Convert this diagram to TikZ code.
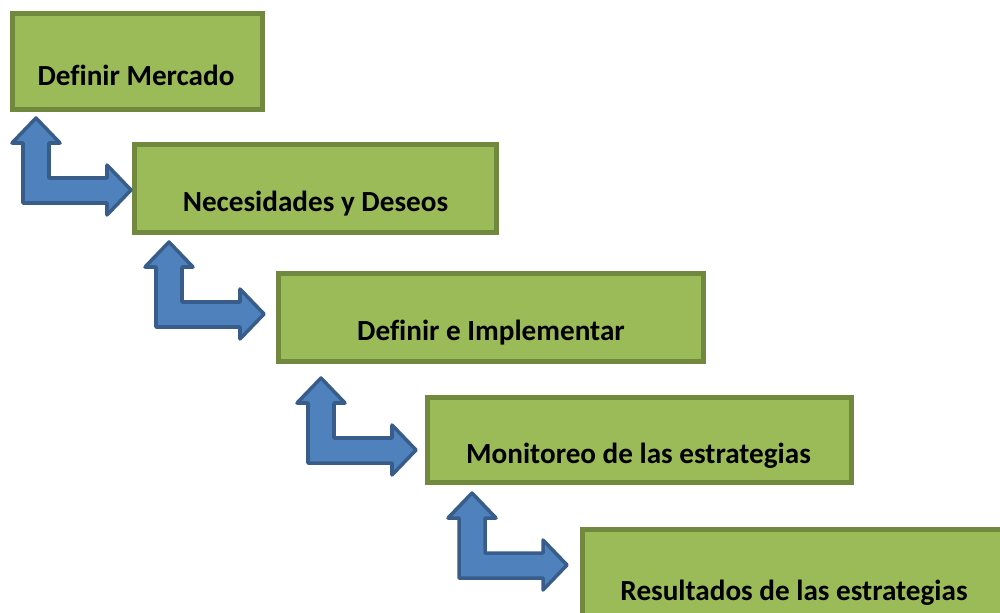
\documentclass[tikz,border=0pt]{standalone}
\usepackage{fontspec}
\setmainfont{Carlito}[Ligatures=NoCommon]
\definecolor{boxfill}{HTML}{9BBB59}
\definecolor{boxline}{HTML}{71893F}
\definecolor{arrowfill}{HTML}{4F81BD}
\definecolor{arrowline}{HTML}{385D8A}
\tikzset{
    box/.style = {draw=boxline, fill=boxfill, line width=3pt, anchor=north west, inner sep=0pt, outer sep=0pt},
    label/.style = {font = {\bfseries\fontsize{16.6}{20}\selectfont}, black, anchor=base, inner sep=0pt},
    bent/.pic = {
        \draw[arrowline, fill=arrowfill, line width=2pt, line join=round]
            (0,0) -- (24,25) -- (13,25) -- (13,60) -- (71,60) -- (71,47) -- (95,72)
            -- (71,97) -- (71,85) -- (-13,85) -- (-13,25) -- (-24,25) -- cycle;
    }
}

\begin{document}
\begin{tikzpicture}[x=0.02cm, y=-0.02cm]
        \clip (0,0) rectangle (1000,612);
        \node[box, minimum width=5cm, minimum height=1.92cm] (mercado) at (12.5,13.5) {};
        \node[box, minimum width=7.24cm, minimum height=1.76cm] (necesidades) at (134.5,144.5) {};
        \node[box, minimum width=8.5cm, minimum height=1.76cm] (implementar) at (278.5,273.5) {};
        \node[box, minimum width=8.48cm, minimum height=1.70cm] (monitoreo) at (427.5,397.5) {};
        \node[box, minimum width=8.46cm, minimum height=1.76cm] (resultados) at (582.5,529.5) {};
        \node[label] (tmercado) at (136,85) {Definir Mercado};
        \node[label] (tnecesidades) at (315.5,211) {Necesidades y Deseos};
        \node[label] (timplementar) at (491,340) {Definir e Implementar};
        \node[label] (tmonitoreo) at (638.5,463) {Monitoreo de las estrategias};
        \node[label] (tresultados) at (794,600) {Resultados de las estrategias};
        \pic at (36,118) {bent};
        \pic at (169,242) {bent};
        \pic at (321,378) {bent};
        \pic at (472,493) {bent};
    \end{tikzpicture}
\end{document}
